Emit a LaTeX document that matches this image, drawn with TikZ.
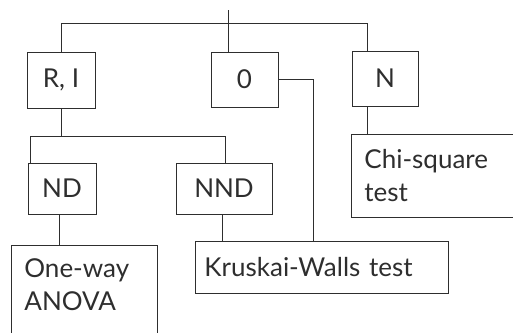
\documentclass[tikz,border=0pt]{standalone}
\usepackage{fontspec}
\setmainfont{Lato}
\usetikzlibrary{positioning,calc}
\definecolor{lc}{HTML}{2E2E2E}

\begin{document}
\begin{tikzpicture}[x=1pt,y=-1pt,line width=0.8pt,color=lc,
    box/.style={draw,inner sep=0pt,font=\fontsize{26}{33}\selectfont}]
  \useasboundingbox (0,0) rectangle (513,332);
  \clip (0,0) rectangle (513,332);
  % scale types
  \node[box,minimum width=68,minimum height=56] (ri) at (61,80) {R, I};
  \node[box,minimum width=67,minimum height=55] (zero) at (244.5,79.5) {0};
  \node[box,minimum width=66,minimum height=55] (n) at (385,78.5) {N};
  % distributions
  \node[box,minimum width=68,minimum height=51] (nd) at (62,188.5) {ND};
  \node[box,minimum width=96,minimum height=51] (nnd) at (224,188.5) {NND};
  % tests
  \node[box,anchor=north west,text width=160,inner xsep=13,minimum height=83,align=left] (chi) at (351,134) {Chi-square\\test};
  \node[box,anchor=north west,text width=235,inner xsep=9,minimum height=52,align=left] (kw) at (195,241) {Kruskai-Walls test};
  \node[box,anchor=north west,minimum width=146,minimum height=110] (oneway) at (11,245) {};
  \node[box,draw=none,anchor=north west,align=left] (onewaytext) at (24,258) {One-way\\ANOVA};
  % connectors
  \coordinate (root) at (228,10);
  \coordinate (nj) at (367,23);
  \draw (root) -- (root |- zero.north);
  \draw (ri.north) |- (nj) -- (nj |- n.north);
  \coordinate (ndj) at (30,136);
  \coordinate (nndj) at (225,136);
  \draw (ri.south) -- (ri.south |- ndj);
  \draw (nd.north -| ndj) |- (nndj) -- (nndj |- nnd.north);
  \draw ([xshift=-3]nd.south) -- ([xshift=-3]nd.south |- oneway.north);
  \draw ([xshift=-2]nnd.south) -- ([xshift=-2]nnd.south |- kw.north);
  \coordinate (kwj) at (313,241);
  \draw (zero.east) -| (kwj);
  \draw (nj |- n.south) -- (nj |- chi.north);
\end{tikzpicture}
\end{document}
